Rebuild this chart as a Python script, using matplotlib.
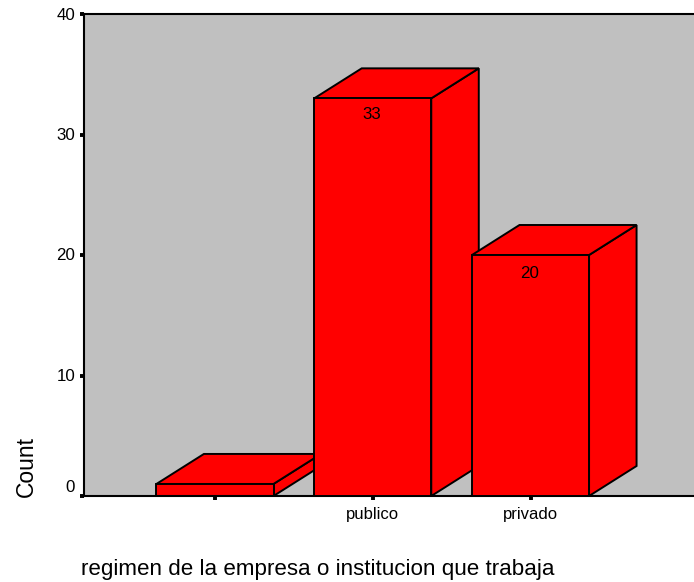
import matplotlib
matplotlib.use("Agg")
import matplotlib.pyplot as plt
from matplotlib.patches import Polygon

plt.rcParams['font.family'] = ['Liberation Sans', 'DejaVu Sans']

# data
categories = ['', 'publico', 'privado']
counts = [1, 33, 20]
shown_labels = ['', '33', '20']
y_ticks = [0, 10, 20, 30, 40]

BAR_W = 0.742
DEPTH_X = 0.301
DEPTH_Y = 2.49
PX = 72 / 100  # pixels to points

fig = plt.figure(figsize=(6.94, 5.82), dpi=100)
ax = fig.add_axes([84 / 694, 1 - 496 / 582, 1 - 84 / 694 + 0.01, (496 - 14) / 582])
ax.set_facecolor('#c0c0c0')
ax.set_xlim(-0.83, 3.036 + 0.01 * 694 / 157.75)
ax.set_ylim(0, 40)

# 3D-looking bars: front, side and top faces
label_drop = [0, 16, 18]
for i, v in enumerate(counts):
    l = i - BAR_W / 2
    r = i + BAR_W / 2
    front = [(l, 0), (r, 0), (r, v), (l, v)]
    side = [(r, 0), (r + DEPTH_X, DEPTH_Y), (r + DEPTH_X, v + DEPTH_Y), (r, v)]
    top = [(l, v), (r, v), (r + DEPTH_X, v + DEPTH_Y), (l + DEPTH_X, v + DEPTH_Y)]
    for face in (side, top, front):
        ax.add_patch(Polygon(face, closed=True, facecolor='#ff0000', edgecolor='black',
                             linewidth=1.4, joinstyle='miter', zorder=2 + i))
    if shown_labels[i]:
        ax.annotate(shown_labels[i], (i, v), xytext=(-1 * PX, -label_drop[i] * PX),
                    textcoords='offset points', ha='center', va='center',
                    fontsize=12.2, color='black', zorder=10)

ax.set_xticks(range(len(categories)))
ax.set_xticklabels(categories, fontsize=12)
ax.set_yticks(y_ticks)
ax.set_yticklabels([])
ax.tick_params(axis='y', length=3.2, width=2.8)
ax.tick_params(axis='x', length=3, width=2.8, pad=5)

# y labels sit by hand, the 0 is pushed up off the axis corner
for t in y_ticks:
    up = 9 if t == 0 else -1
    ax.annotate(str(t), (0, t), xycoords=('axes fraction', 'data'),
                xytext=(-9 * PX, up * PX), textcoords='offset points',
                ha='right', va='center', fontsize=12.2, annotation_clip=False)

for s in ax.spines.values():
    s.set_linewidth(1.5)
ax.spines['right'].set_visible(False)

fig.text(26 / 694, 1 - 497 / 582, 'Count', rotation=90, ha='center', va='bottom', fontsize=16.5)
fig.text(81 / 694, 1 - 569 / 582, 'regimen de la empresa o institucion que trabaja',
         ha='left', va='center', fontsize=16.1)

plt.savefig('out.png', dpi=100)
plt.close()
